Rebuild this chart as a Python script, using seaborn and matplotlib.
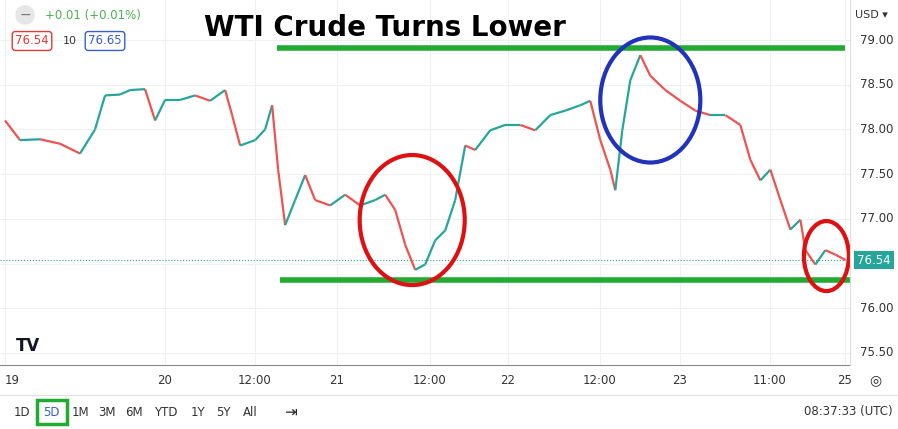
import matplotlib
matplotlib.use("Agg")
import matplotlib.pyplot as plt
import seaborn as sns
import numpy as np
from matplotlib.patches import Ellipse, FancyBboxPatch
from matplotlib.collections import LineCollection

sns.set_style("white")
plt.rcParams['font.family'] = ['DejaVu Sans']

# time positions (chart units) and closing prices
t = [5,20,40,60,80,95,105,120,130,145,155,165,180,195,210,225,232,240,255,265,272,278,285,295,305,315,330,345,360,375,385,395,405,415,425,435,445,455,465,475,490,505,520,535,550,565,580,590,600,610,615,622,630,640,650,665,680,695,710,725,740,750,760,770,780,790,800,805,815,825,835,845]
price = [78.10,77.88,77.89,77.84,77.73,78.00,78.38,78.39,78.44,78.45,78.10,78.33,78.33,78.38,78.32,78.44,78.16,77.82,77.88,78.00,78.27,77.55,76.93,77.21,77.49,77.21,77.15,77.27,77.15,77.21,77.27,77.10,76.71,76.43,76.49,76.76,76.87,77.21,77.82,77.77,77.99,78.05,78.05,77.99,78.16,78.21,78.27,78.32,77.88,77.55,77.32,77.99,78.55,78.83,78.60,78.44,78.32,78.21,78.16,78.16,78.05,77.66,77.43,77.55,77.21,76.88,76.99,76.65,76.49,76.65,76.60,76.54]
xtick_pos = [5,165,255,337,430,508,600,680,770,845]
xtick_lab = ["19","20","12:00","21","12:00","22","12:00","23","11:00","25"]
ytick_vals = [79.00,78.50,78.00,77.50,77.00,76.50,76.00,75.50]

fig = plt.figure(figsize=(8.98,4.29), dpi=100)
ax = fig.add_axes([0, 0.149, 0.947, 0.851])
ax.set_xlim(0, 850)
ax.set_ylim(75.365, 79.447)
for x in xtick_pos:
    ax.axvline(x, color="#eef0f3", lw=0.8, zorder=0)
for y in ytick_vals:
    ax.axhline(y, color="#eef0f3", lw=0.8, zorder=0)

pts = np.column_stack([t, price])
segs = np.stack([pts[:-1], pts[1:]], axis=1)
cols = ["#26a69a" if b >= a else "#ef5350" for a, b in zip(price[:-1], price[1:])]
ax.add_collection(LineCollection(segs, colors=cols, lw=1.6, zorder=2))

ax.axhline(price[-1], color="#26a69a", lw=0.8, ls=":", zorder=1)
ax.plot([277, 845], [78.91, 78.91], color="#22aa33", lw=4, solid_capstyle="butt", zorder=3)
ax.plot([280, 850], [76.315, 76.315], color="#22aa33", lw=4, solid_capstyle="butt", zorder=3)
ppu = 89.4
for (cx, cy, w, h, c) in [(412, 220, 105, 130, "#dd1111"), (650, 100, 100, 125, "#2233bb"), (826, 256, 45, 70, "#dd1111")]:
    ax.add_patch(Ellipse((cx, 79 - (cy - 40) / ppu), w, h / ppu, fill=False, ec=c, lw=3, zorder=4))

ax.set_xticks([]); ax.set_yticks([])
for s in ax.spines.values():
    s.set_visible(False)
ax.spines['bottom'].set_visible(True); ax.spines['bottom'].set_color("#888888")

# right price axis labels (76.50 is hidden behind the last-price tag)
for y in ytick_vals:
    if abs(y - 76.5) < 1e-9:
        continue
    fig.text(860/898, 1 - (40 + (79 - y) * ppu) / 429, f"{y:.2f}", fontsize=8.5, color="#333333", va="center")
fig.text(888/898, 1 - 15/429, "USD ▾", fontsize=8, color="#333333", va="center", ha="right")
fig.text(874/898, 1 - 260/429, f"{price[-1]:.2f}", fontsize=8.5, color="white", va="center", ha="center",
         bbox=dict(boxstyle="square,pad=0.25", fc="#26a69a", ec="none"))
fig.add_artist(plt.Line2D([850/898]*2, [0.149, 1], color="#dddddd", lw=0.8))

for x, lab in zip(xtick_pos, xtick_lab):
    fig.text(x/898, 1 - 380/429, lab, fontsize=8.5, color="#333333",
             ha="left" if x < 20 else "center", va="center")
fig.text(875/898, 1 - 380/429, "◎", fontsize=10, ha="center", va="center")

fig.text(385/898, 1 - 28/429, "WTI Crude Turns Lower", fontsize=20, fontweight="bold", color="black", ha="center", va="center")
fig.text(45/898, 1 - 15/429, "+0.01 (+0.01%)", fontsize=8.5, color="#4caf50", va="center")
fig.text(25/898, 1 - 15/429, "−", fontsize=10, color="#777777", va="center", ha="center",
         bbox=dict(boxstyle="circle,pad=0.2", fc="#e6e6e6", ec="none"))
fig.text(32/898, 1 - 41/429, "76.54", fontsize=8.5, color="#e53935", va="center", ha="center",
         bbox=dict(boxstyle="round,pad=0.25", fc="white", ec="#e53935"))
fig.text(70/898, 1 - 41/429, "10", fontsize=8, color="#333333", va="center", ha="center")
fig.text(105/898, 1 - 41/429, "76.65", fontsize=8.5, color="#3a5fcd", va="center", ha="center",
         bbox=dict(boxstyle="round,pad=0.25", fc="white", ec="#3a5fcd"))
fig.text(28/898, 1 - 346/429, "TV", fontsize=12, fontweight="bold", color="#131722", va="center", ha="center")

fig.add_artist(plt.Line2D([0, 1], [1 - 395/429]*2, color="#e0e0e0", lw=0.8))
for x, lab in zip([22, 51, 80, 107, 134, 166, 198, 223, 250], ["1D","5D","1M","3M","6M","YTD","1Y","5Y","All"]):
    fig.text(x/898, 1 - 412/429, lab, fontsize=8.5, color="#3a5fcd" if lab == "5D" else "#333333", ha="center", va="center")
fig.add_artist(FancyBboxPatch((37/898, 1 - 424/429), 30/898, 24/429, boxstyle="square,pad=0", fill=False, ec="#22aa33", lw=2.5))
fig.text(290/898, 1 - 412/429, "⇥", fontsize=11, ha="center", va="center")
fig.text(893/898, 1 - 412/429, "08:37:33 (UTC)", fontsize=8.5, color="#333333", ha="right", va="center")

fig.savefig("out.png", dpi=100)
